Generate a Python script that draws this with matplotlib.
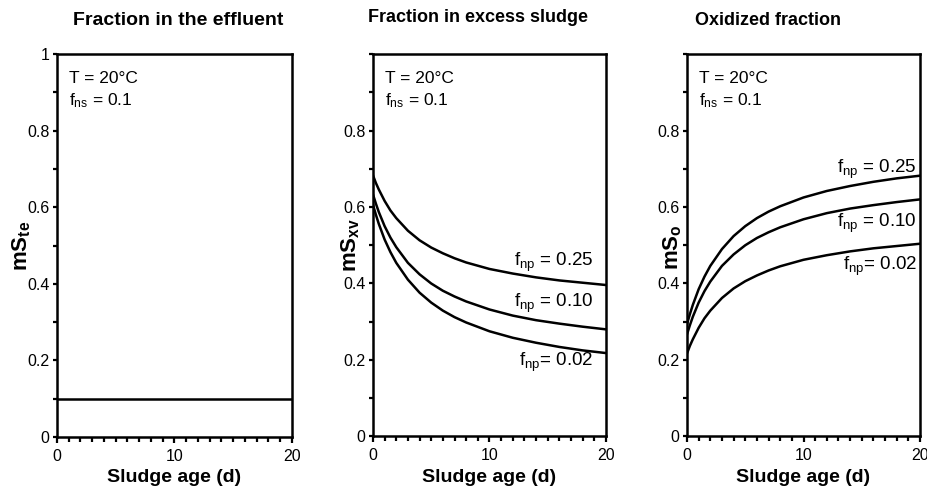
import matplotlib
matplotlib.use('Agg')
import matplotlib.pyplot as plt
from matplotlib.ticker import MultipleLocator

plt.rcParams['font.family'] = ['Liberation Sans', 'DejaVu Sans']
plt.rcParams['mathtext.fontset'] = 'custom'
plt.rcParams['mathtext.rm'] = 'Liberation Sans'
plt.rcParams['mathtext.it'] = 'Liberation Sans'
plt.rcParams['mathtext.bf'] = 'Liberation Sans:bold'

#%% data
# sludge age (d)
rs = [0, 0.25, 0.5, 1, 1.5, 2, 3, 4, 5, 6, 7, 8, 10, 12, 14, 16, 18, 20]

# fraction in the effluent
rs_te = [0, 20]
mste = [0.1, 0.1]

# fraction in excess sludge
msxv_025 = [0.683, 0.663, 0.646, 0.616, 0.591, 0.571, 0.538, 0.513, 0.494,
            0.479, 0.466, 0.455, 0.438, 0.426, 0.416, 0.408, 0.402, 0.396]
msxv_010 = [0.633, 0.609, 0.587, 0.550, 0.520, 0.495, 0.454, 0.424, 0.400,
            0.381, 0.366, 0.353, 0.332, 0.316, 0.304, 0.295, 0.287, 0.280]
msxv_002 = [0.606, 0.580, 0.556, 0.515, 0.482, 0.454, 0.410, 0.376, 0.350,
            0.329, 0.312, 0.298, 0.275, 0.258, 0.245, 0.234, 0.225, 0.218]

# oxidized fraction (curves as labelled in the figure)
mso_025 = [0.294, 0.320, 0.344, 0.385, 0.418, 0.446, 0.490, 0.524, 0.550,
           0.571, 0.588, 0.602, 0.625, 0.642, 0.655, 0.666, 0.675, 0.682]
mso_010 = [0.267, 0.291, 0.313, 0.350, 0.380, 0.405, 0.446, 0.476, 0.500,
           0.519, 0.534, 0.547, 0.568, 0.584, 0.596, 0.605, 0.613, 0.620]
mso_002 = [0.217, 0.237, 0.254, 0.284, 0.309, 0.329, 0.362, 0.387, 0.406,
           0.421, 0.434, 0.445, 0.462, 0.474, 0.484, 0.492, 0.498, 0.504]

titles = ['Fraction in the effluent', 'Fraction in excess sludge', 'Oxidized fraction']
ylabels = [r'$\mathbf{mS_{te}}$', r'$\mathbf{mS_{xv}}$', r'$\mathbf{mS_{o}}$']
xticks = [0, 10, 20]
xticklabels = ['0', '10', '20']
yticks_1 = [0, 0.2, 0.4, 0.6, 0.8, 1.0]
yticklabels_1 = ['0', '0.2', '0.4', '0.6', '0.8', '1']
yticks_23 = [0, 0.2, 0.4, 0.6, 0.8]
yticklabels_23 = ['0', '0.2', '0.4', '0.6', '0.8']
fnp_labels = [r'$\mathregular{f_{np}}$ = 0.25', r'$\mathregular{f_{np}}$ = 0.10',
              r'$\mathregular{f_{np}}$= 0.02']

#%% figure
fig = plt.figure(figsize=(9.28, 4.92), dpi=100)
pos = [[0.0614, 0.112, 0.2532, 0.778],
       [0.4019, 0.113, 0.2511, 0.777],
       [0.7403, 0.113, 0.2511, 0.777]]
axs = [fig.add_axes(p) for p in pos]

for i, ax in enumerate(axs):
    ax.set_xlim(0, 20)
    ax.set_ylim(0, 1)
    for s in ax.spines.values():
        s.set_linewidth(1.8)
    ax.set_xticks(xticks)
    ax.set_xticklabels(xticklabels)
    ax.xaxis.set_minor_locator(MultipleLocator(1))
    ax.yaxis.set_minor_locator(MultipleLocator(0.1))
    if i == 0:
        ax.set_yticks(yticks_1)
        ax.set_yticklabels(yticklabels_1)
    else:
        ax.set_yticks(yticks_23)
        ax.set_yticklabels(yticklabels_23)
    ax.tick_params(axis='x', which='major', direction='out', length=4.5, width=1.6,
                   pad=4, labelsize=11.5)
    ax.tick_params(axis='x', which='minor', direction='out', length=3.8, width=1.6)
    ax.tick_params(axis='y', which='major', direction='out', length=3, width=1.6,
                   pad=2.5, labelsize=11.5)
    ax.tick_params(axis='y', which='minor', direction='out', length=3, width=1.6)
    ax.set_xlabel('Sludge age (d)', fontsize=14, fontweight='bold', labelpad=4)
    ax.set_ylabel(ylabels[i], fontsize=16)
    ax.text(0.052, 0.924, 'T = 20°C', transform=ax.transAxes, fontsize=12.5, va='baseline')
    ax.text(0.052, 0.866, r'$\mathregular{f_{ns}}$ = 0.1', transform=ax.transAxes,
            fontsize=12.5, va='baseline')

axs[0].yaxis.set_label_coords(-0.10, 0.5)
axs[1].yaxis.set_label_coords(-0.045, 0.5)
axs[2].yaxis.set_label_coords(-0.012, 0.495)

# titles
fig.text(178 / 928, 1 - 25 / 492, titles[0], ha='center', va='baseline',
         fontsize=14, fontweight='bold')
fig.text(478 / 928, 1 - 22 / 492, titles[1], ha='center', va='baseline',
         fontsize=13, fontweight='bold')
fig.text(768 / 928, 1 - 25 / 492, titles[2], ha='center', va='baseline',
         fontsize=13, fontweight='bold')

# panel 1
axs[0].plot(rs_te, mste, color='black', lw=1.8)

# panel 2
axs[1].plot(rs, msxv_025, color='black', lw=1.8)
axs[1].plot(rs, msxv_010, color='black', lw=1.8)
axs[1].plot(rs, msxv_002, color='black', lw=1.8)
axs[1].text(18.9, 0.447, fnp_labels[0], ha='right', va='baseline', fontsize=13.5)
axs[1].text(18.9, 0.338, fnp_labels[1], ha='right', va='baseline', fontsize=13.5)
axs[1].text(18.9, 0.183, fnp_labels[2], ha='right', va='baseline', fontsize=13.5)

# panel 3
axs[2].plot(rs, mso_025, color='black', lw=1.8)
axs[2].plot(rs, mso_010, color='black', lw=1.8)
axs[2].plot(rs, mso_002, color='black', lw=1.8)
axs[2].text(19.75, 0.69, fnp_labels[0], ha='right', va='baseline', fontsize=13.5)
axs[2].text(19.75, 0.548, fnp_labels[1], ha='right', va='baseline', fontsize=13.5)
axs[2].text(19.75, 0.436, fnp_labels[2], ha='right', va='baseline', fontsize=13.5)

plt.savefig('out.png', dpi=100)
